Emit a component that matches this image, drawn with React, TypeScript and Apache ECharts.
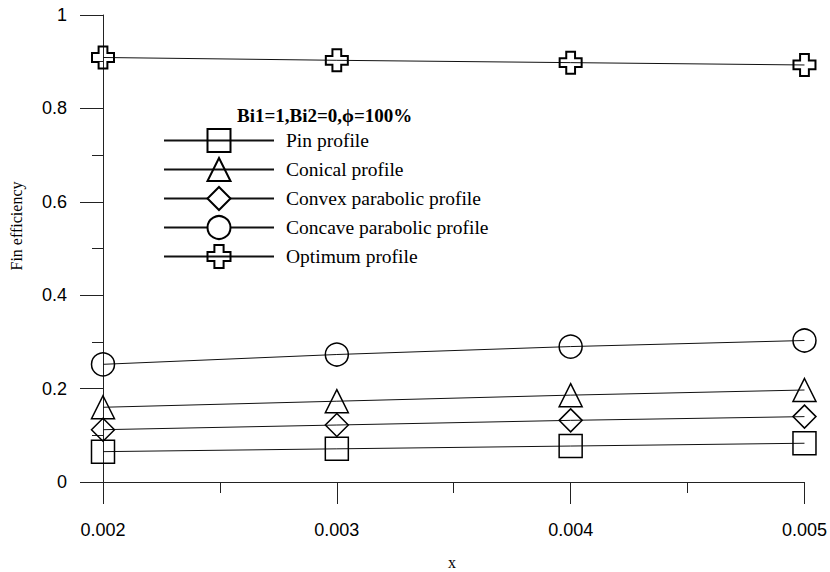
import React, { useEffect, useRef } from "react";
import * as echarts from "echarts";

// Fin length values on the horizontal axis
const xValues = [0.002, 0.003, 0.004, 0.005];

// Fin efficiency for each profile
const pinProfile = [0.065, 0.071, 0.077, 0.083];
const conicalProfile = [0.16, 0.173, 0.186, 0.197];
const convexProfile = [0.112, 0.122, 0.132, 0.14];
const concaveProfile = [0.252, 0.273, 0.29, 0.303];
const optimumProfile = [0.909, 0.903, 0.898, 0.893];

const seriesNames = [
  "Pin profile",
  "Conical profile",
  "Convex parabolic profile",
  "Concave parabolic profile",
  "Optimum profile",
];

const legendTitle = "Bi1=1,Bi2=0,\u03d5=100%";
const xAxisTitle = "x";
const yAxisTitle = "Fin efficiency";

const CROSS = "path://M3,0L7,0L7,3L10,3L10,7L7,7L7,10L3,10L3,7L0,7L0,3L3,3Z";
const SERIF = "'Liberation Serif', 'Times New Roman', serif";
const SANS = "'Liberation Sans', Arial, sans-serif";

export default function App() {
  const ref = useRef<HTMLDivElement>(null);

  useEffect(() => {
    if (!ref.current) return;
    const chart = echarts.init(ref.current, undefined, { renderer: "svg" });

    const values = [pinProfile, conicalProfile, convexProfile, concaveProfile, optimumProfile];
    const symbols = ["rect", "triangle", "diamond", "circle", CROSS];
    const sizes = [23, 23, 23, 23, 22];
    const borders = [1.5, 1.5, 1.5, 1.5, 2];

    const series = values.map((vals, i) => ({
      name: seriesNames[i],
      type: "line",
      data: vals.map((v, j) => [xValues[j], v]),
      symbol: symbols[i],
      symbolSize: sizes[i],
      showAllSymbol: true,
      lineStyle: { color: "#111", width: 1 },
      itemStyle: { color: "transparent", borderColor: "#000", borderWidth: borders[i] },
      emphasis: { disabled: true },
    }));

    const axisLine = { show: true, onZero: false, lineStyle: { color: "#222", width: 1 } };

    chart.setOption({
      animation: false,
      backgroundColor: "#fff",
      grid: { left: 103, top: 15, width: 702, height: 467 },
      xAxis: {
        type: "value",
        min: 0.002,
        max: 0.005,
        interval: 0.001,
        axisLine,
        axisTick: { show: true, inside: false, length: 22, lineStyle: { color: "#222" } },
        minorTick: { show: true, splitNumber: 2, length: 11, lineStyle: { color: "#222" } },
        splitLine: { show: false },
        axisLabel: {
          margin: 39,
          color: "#000",
          fontFamily: SANS,
          fontSize: 18,
          formatter: (v: number) => v.toFixed(3),
        },
      },
      yAxis: {
        type: "value",
        min: 0,
        max: 1,
        interval: 0.2,
        axisLine,
        axisTick: { show: true, inside: false, length: 23, lineStyle: { color: "#222" } },
        minorTick: { show: true, splitNumber: 2, length: 11, lineStyle: { color: "#222" } },
        splitLine: { show: false },
        axisLabel: {
          margin: 36,
          color: "#000",
          fontFamily: SANS,
          fontSize: 18,
          formatter: (v: number) => String(Number(v.toFixed(1))),
        },
      },
      legend: {
        orient: "vertical",
        left: 163,
        top: 128,
        padding: 0,
        itemWidth: 110,
        itemHeight: 28.75,
        itemGap: 4,
        selectedMode: false,
        textStyle: { color: "#000", fontFamily: SERIF, fontSize: 19.5, padding: [0, 0, 0, 7] },
        data: seriesNames.map((name, i) =>
          i === 2 || i === 3 ? { name, itemStyle: { color: "#fff" } } : { name }
        ),
      },
      graphic: [
        {
          type: "text",
          x: 237,
          y: 115,
          style: {
            text: legendTitle,
            font: `bold 19px ${SERIF}`,
            fill: "#000",
            align: "left",
            verticalAlign: "middle",
          },
        },
        {
          type: "text",
          x: 16,
          y: 226,
          rotation: Math.PI / 2,
          style: {
            text: yAxisTitle,
            font: `16px ${SERIF}`,
            fill: "#000",
            align: "center",
            verticalAlign: "middle",
          },
        },
        {
          type: "text",
          x: 452,
          y: 562,
          style: {
            text: xAxisTitle,
            font: `16px ${SERIF}`,
            fill: "#000",
            align: "center",
            verticalAlign: "middle",
          },
        },
      ],
      series,
    });

    return () => chart.dispose();
  }, []);

  return (
    <div
      ref={ref}
      style={{ position: "fixed", left: 0, top: 0, width: 830, height: 572, background: "#fff" }}
    />
  );
}
